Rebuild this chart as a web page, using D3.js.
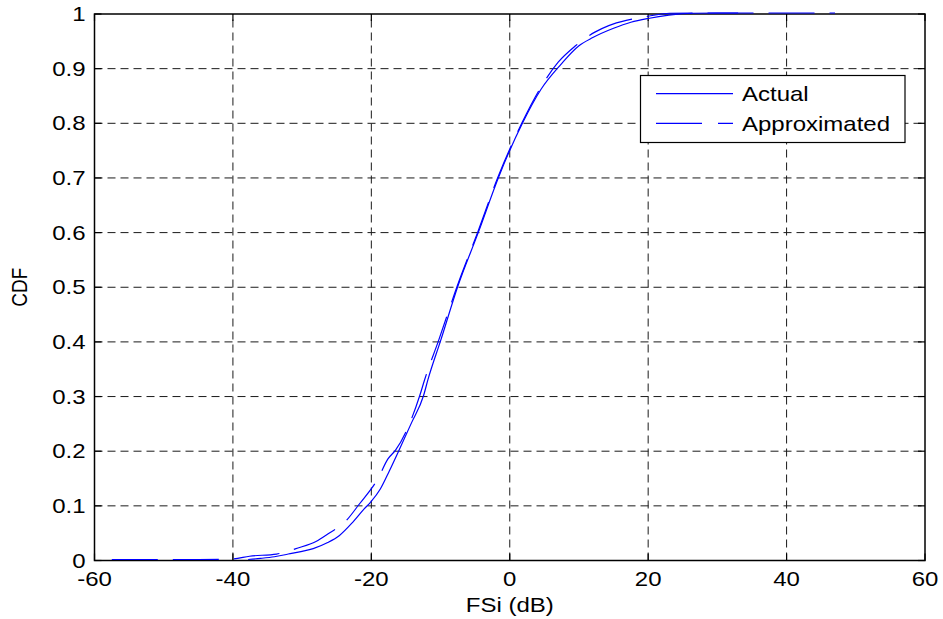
<!DOCTYPE html>
<html>
<head>
<meta charset="utf-8">
<script src="https://cdn.jsdelivr.net/npm/d3@7"></script>
<style>
  body { margin: 0; background: #fff; }
  text { font-family: "Liberation Sans", Arial, Helvetica, sans-serif; fill: #000; }
</style>
</head>
<body>
<svg id="chart" width="943" height="619"></svg>
<script>
// Empirical CDF of the measured FSi values (dB, cumulative probability)
const actualX = [-37.8, -36, -34, -32, -30, -28.4, -26.3, -24.6, -22.7, -21.0, -20.1, -18.7, -17.4, -16.0, -14.2, -12.45, -11.8, -10.0, -7.5, -4.5, -1.6, 1.9, 4.5, 7.4, 10.0, 12.0, 15.0, 17.5, 20.0, 23.0, 26.4, 30.0, 33.0];
const actualP = [0, 0.002, 0.005, 0.010, 0.015, 0.020, 0.031, 0.044, 0.068, 0.093, 0.105, 0.129, 0.162, 0.200, 0.250, 0.300, 0.330, 0.400, 0.500, 0.600, 0.700, 0.800, 0.860, 0.906, 0.940, 0.955, 0.972, 0.983, 0.990, 0.996, 0.9995, 1, 1];

// Approximated distribution
const approxX = [-57.5, -45, -40, -37.6, -33.7, -30.6, -28.0, -26.0, -24.1, -21.7, -19.0, -17.6, -16.5, -13.0, -12.3, -10.3, -7.6, -4.6, -1.7, 1.8, 4.3, 7.0, 9.5, 12.3, 14.3, 17.0, 20.0, 23.1, 30.0, 47.0];
const approxP = [0, 0, 0.001, 0.006, 0.010, 0.021, 0.033, 0.049, 0.065, 0.102, 0.149, 0.184, 0.200, 0.300, 0.329, 0.400, 0.500, 0.600, 0.700, 0.800, 0.860, 0.910, 0.940, 0.965, 0.977, 0.987, 0.994, 0.9995, 1, 1];

const xTicks = [-60, -40, -20, 0, 20, 40, 60];
const yTicks = [0, 0.1, 0.2, 0.3, 0.4, 0.5, 0.6, 0.7, 0.8, 0.9, 1];
const xTitle = "FSi (dB)";
const yTitle = "CDF";
const seriesNames = ["Actual", "Approximated"];

const svg = d3.select("#chart");
const plotL = 94.5, plotR = 925, plotT = 14, plotB = 560.5;
const x = d3.scaleLinear().domain([-60, 60]).range([plotL, plotR]);
const y = d3.scaleLinear().domain([0, 1]).range([plotB, plotT]);

const FS = 20, SX = 1.2;   // font size and horizontal stretch of all labels
function label(g, px, py, str, anchor) {
  return g.append("text")
    .attr("transform", `translate(${px},${py}) scale(${SX},1)`)
    .attr("text-anchor", anchor)
    .attr("font-size", FS)
    .text(str);
}

// white axes background
svg.append("rect").attr("x", plotL).attr("y", plotT)
  .attr("width", plotR - plotL).attr("height", plotB - plotT).attr("fill", "#fff");

// dashed grid
const grid = svg.append("g").attr("stroke", "#1a1a1a").attr("stroke-width", 1)
  .attr("stroke-dasharray", "8,5").attr("fill", "none");
xTicks.slice(1, -1).forEach(t => grid.append("line")
  .attr("x1", x(t)).attr("x2", x(t)).attr("y1", plotB).attr("y2", plotT));
yTicks.slice(1, -1).forEach(t => grid.append("line")
  .attr("x1", plotL).attr("x2", plotR).attr("y1", y(t)).attr("y2", y(t)));

// axes box
svg.append("rect").attr("x", plotL).attr("y", plotT)
  .attr("width", plotR - plotL).attr("height", plotB - plotT)
  .attr("fill", "none").attr("stroke", "#000").attr("stroke-width", 1.5);

// inward ticks on all four sides
const tl = 7;
const ticks = svg.append("g").attr("stroke", "#000").attr("stroke-width", 1.2);
xTicks.forEach(t => {
  ticks.append("line").attr("x1", x(t)).attr("x2", x(t)).attr("y1", plotB).attr("y2", plotB - tl);
  ticks.append("line").attr("x1", x(t)).attr("x2", x(t)).attr("y1", plotT).attr("y2", plotT + tl);
});
yTicks.forEach(t => {
  ticks.append("line").attr("x1", plotL).attr("x2", plotL + tl).attr("y1", y(t)).attr("y2", y(t));
  ticks.append("line").attr("x1", plotR).attr("x2", plotR - tl).attr("y1", y(t)).attr("y2", y(t));
});

// tick labels
const labels = svg.append("g");
xTicks.forEach(t => label(labels, x(t), 586, String(t), "middle"));
yTicks.forEach(t => label(labels, plotL - 9, y(t) + 7, String(t), "end"));

// axis titles
label(svg, (plotL + plotR) / 2, 612, xTitle, "middle");
svg.append("text")
  .attr("transform", `translate(27,${(plotT + plotB) / 2}) rotate(-90) scale(1,1.15)`)
  .attr("text-anchor", "middle").attr("font-size", 19).text(yTitle);

// curves
const line = d3.line().x(d => x(d[0])).y(d => y(d[1])).curve(d3.curveMonotoneX);
const actual = actualX.map((v, i) => [v, actualP[i]]);
const approx = approxX.map((v, i) => [v, approxP[i]]);
const curves = svg.append("g").attr("fill", "none").attr("stroke", "#0000ff").attr("stroke-width", 1.2)
  .attr("transform", "translate(0,-1)");
curves.append("path").attr("d", line(actual));
curves.append("path").attr("d", line(approx)).attr("stroke-dasharray", "46,15");

// legend
const lg = svg.append("g");
lg.append("rect").attr("x", 640.5).attr("y", 75.5).attr("width", 264.5).attr("height", 67)
  .attr("fill", "#fff").attr("stroke", "#000").attr("stroke-width", 1.2);
const rows = [93.7, 123.3];
lg.append("line").attr("x1", 656).attr("x2", 733).attr("y1", rows[0]).attr("y2", rows[0])
  .attr("stroke", "#0000ff").attr("stroke-width", 1.2);
lg.append("line").attr("x1", 656).attr("x2", 733).attr("y1", rows[1]).attr("y2", rows[1])
  .attr("stroke", "#0000ff").attr("stroke-width", 1.2).attr("stroke-dasharray", "46,16");
seriesNames.forEach((s, i) => label(lg, 742, rows[i] + 7.5, s, "start"));
</script>
</body>
</html>
